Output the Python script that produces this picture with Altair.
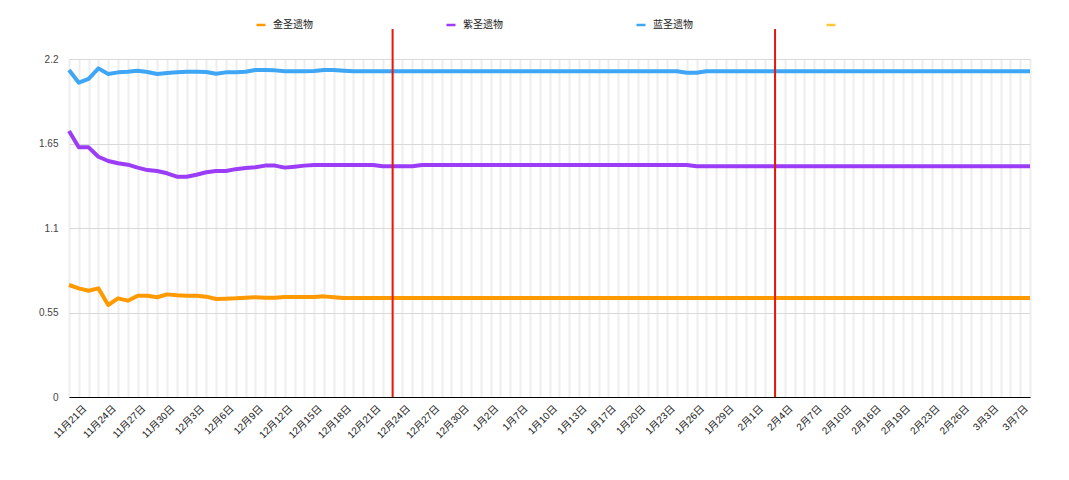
import json

import altair as alt
import pandas as pd

# Category axis: one entry per record date (not every calendar day is present)
dates = [
    "11月21日", "11月22日", "11月23日", "11月24日", "11月25日", "11月26日", "11月27日", "11月28日", "11月29日", "11月30日",
    "12月1日", "12月2日", "12月3日", "12月4日", "12月5日", "12月6日", "12月7日", "12月8日", "12月9日", "12月10日",
    "12月11日", "12月12日", "12月13日", "12月14日", "12月15日", "12月16日", "12月17日", "12月18日", "12月19日", "12月20日",
    "12月21日", "12月22日", "12月23日", "12月24日", "12月25日", "12月26日", "12月27日", "12月28日", "12月29日", "12月30日",
    "12月31日", "1月1日", "1月2日", "1月3日", "1月5日", "1月7日", "1月8日", "1月9日", "1月10日", "1月11日",
    "1月12日", "1月13日", "1月14日", "1月15日", "1月17日", "1月18日", "1月19日", "1月20日", "1月21日", "1月22日",
    "1月23日", "1月24日", "1月25日", "1月26日", "1月27日", "1月28日", "1月29日", "1月30日", "1月31日", "2月1日",
    "2月2日", "2月3日", "2月4日", "2月5日", "2月6日", "2月7日", "2月8日", "2月9日", "2月10日", "2月12日",
    "2月14日", "2月16日", "2月17日", "2月18日", "2月19日", "2月20日", "2月22日", "2月23日", "2月24日", "2月25日",
    "2月26日", "2月28日", "3月1日", "3月3日", "3月4日", "3月6日", "3月7日", "3月8日", "3月9日",
]

gold = [
    0.729, 0.707, 0.692, 0.707, 0.599, 0.642, 0.627, 0.659, 0.659, 0.649,
    0.668, 0.662, 0.659, 0.659, 0.653, 0.638, 0.640, 0.642, 0.646, 0.649,
    0.646, 0.646, 0.651, 0.651, 0.651, 0.651, 0.655, 0.649, 0.644, 0.644,
    0.644, 0.644, 0.644, 0.644, 0.644, 0.644, 0.644, 0.644, 0.644, 0.644,
    0.644, 0.644, 0.644, 0.644, 0.644, 0.644, 0.644, 0.644, 0.644, 0.644,
    0.644, 0.644, 0.644, 0.644, 0.644, 0.644, 0.644, 0.644, 0.644, 0.644,
    0.644, 0.644, 0.644, 0.644, 0.644, 0.644, 0.644, 0.644, 0.644, 0.644,
    0.644, 0.644, 0.644, 0.644, 0.644, 0.644, 0.644, 0.644, 0.644, 0.644,
    0.644, 0.644, 0.644, 0.644, 0.644, 0.644, 0.644, 0.644, 0.644, 0.644,
    0.644, 0.644, 0.644, 0.644, 0.644, 0.644, 0.644, 0.644, 0.644,
]

purple = [
    1.731, 1.625, 1.625, 1.564, 1.536, 1.521, 1.512, 1.493, 1.477, 1.471,
    1.456, 1.434, 1.434, 1.447, 1.463, 1.471, 1.471, 1.483, 1.491, 1.495,
    1.506, 1.506, 1.493, 1.499, 1.506, 1.510, 1.510, 1.510, 1.510, 1.510,
    1.510, 1.510, 1.502, 1.502, 1.502, 1.502, 1.510, 1.510, 1.510, 1.510,
    1.510, 1.510, 1.510, 1.510, 1.510, 1.510, 1.510, 1.510, 1.510, 1.510,
    1.510, 1.510, 1.510, 1.510, 1.510, 1.510, 1.510, 1.510, 1.510, 1.510,
    1.510, 1.510, 1.510, 1.510, 1.502, 1.502, 1.502, 1.502, 1.502, 1.502,
    1.502, 1.502, 1.502, 1.502, 1.502, 1.502, 1.502, 1.502, 1.502, 1.502,
    1.502, 1.502, 1.502, 1.502, 1.502, 1.502, 1.502, 1.502, 1.502, 1.502,
    1.502, 1.502, 1.502, 1.502, 1.502, 1.502, 1.502, 1.502, 1.502,
]

blue = [
    2.128, 2.046, 2.070, 2.139, 2.102, 2.113, 2.117, 2.124, 2.115, 2.102,
    2.109, 2.113, 2.117, 2.117, 2.115, 2.104, 2.113, 2.113, 2.117, 2.128,
    2.128, 2.126, 2.120, 2.120, 2.120, 2.122, 2.128, 2.128, 2.124, 2.120,
    2.120, 2.120, 2.120, 2.120, 2.120, 2.120, 2.120, 2.120, 2.120, 2.120,
    2.120, 2.120, 2.120, 2.120, 2.120, 2.120, 2.120, 2.120, 2.120, 2.120,
    2.120, 2.120, 2.120, 2.120, 2.120, 2.120, 2.120, 2.120, 2.120, 2.120,
    2.120, 2.120, 2.120, 2.110, 2.110, 2.120, 2.120, 2.120, 2.120, 2.120,
    2.120, 2.120, 2.120, 2.120, 2.120, 2.120, 2.120, 2.120, 2.120, 2.120,
    2.120, 2.120, 2.120, 2.120, 2.120, 2.120, 2.120, 2.120, 2.120, 2.120,
    2.120, 2.120, 2.120, 2.120, 2.120, 2.120, 2.120, 2.120, 2.120,
]

series_names = ["金圣遗物", "紫圣遗物", "蓝圣遗物", ""]
series_colors = ["#ff9900", "#9b3cf6", "#3fa6f6", "#ffc83a"]
marker_dates = ["12月24日", "2月4日"]
y_ticks = [0, 0.55, 1.1, 1.65, 2.2]
shown_dates = dates[::3]

rows = []
for name, vals in zip(series_names[:3], [gold, purple, blue]):
    for d, v in zip(dates, vals):
        rows.append({"日期": d, "系列": name, "值": v})
df = pd.DataFrame(rows)
markers = pd.DataFrame({"日期": marker_dates})

FONT = "Liberation Sans, Arial, Noto Sans CJK SC, sans-serif"
W, H = 961, 338

label_expr = (
    "indexof(" + json.dumps(shown_dates, ensure_ascii=False) + ", datum.value) >= 0 ? datum.value : ''"
)

x_scale = alt.Scale(type="point", padding=0, domain=dates)

x_enc = alt.X(
    "日期:N",
    sort=dates,
    scale=x_scale,
    axis=alt.Axis(
        title=None,
        labelAngle=-45,
        labelExpr=label_expr,
        labelFontSize=10,
        labelColor="#222222",
        labelPadding=6,
        labelOffset=12,
        labelFont=FONT,
        ticks=False,
        tickSize=0,
        grid=True,
        gridColor="#eeeeee",
        gridWidth=2,
        domainColor="#000000",
        domainWidth=1,
        labelOverlap=False,
    ),
)

y_enc = alt.Y(
    "值:Q",
    scale=alt.Scale(domain=[0, 2.2], nice=False, zero=True),
    axis=alt.Axis(
        title=None,
        values=y_ticks,
        labelExpr="'' + datum.value",
        ticks=False,
        tickSize=0,
        domain=False,
        grid=True,
        gridColor="#d9d9d9",
        gridWidth=1,
        labelFontSize=10,
        labelColor="#444444",
        labelPadding=11,
        labelFont=FONT,
    ),
)

lines = (
    alt.Chart(df)
    .mark_line(strokeWidth=4, strokeJoin="round", strokeCap="butt")
    .encode(
        x=x_enc,
        y=y_enc,
        color=alt.Color(
            "系列:N",
            scale=alt.Scale(domain=series_names, range=series_colors),
            legend=alt.Legend(
                title=None,
                orient="none",
                legendX=186,
                legendY=-40,
                direction="horizontal",
                columns=4,
                gridAlign="all",
                columnPadding=128,
                symbolType="stroke",
                symbolSize=81,
                symbolStrokeWidth=2.5,
                labelFontSize=10,
                labelColor="#222222",
                labelFont=FONT,
                labelOffset=6,
                padding=0,
            ),
        ),
        detail="系列:N",
    )
)

rules = (
    alt.Chart(markers)
    .mark_rule(color="#e8170c", strokeWidth=2)
    .encode(
        x=alt.X("日期:N", sort=dates, scale=x_scale),
        y=alt.value(-30),
        y2=alt.value(H),
    )
)

chart = (
    alt.layer(lines, rules)
    .properties(
        width=W,
        height=H,
        autosize=alt.AutoSizeParams(type="none"),
        padding={"left": 69, "top": 59, "right": 39, "bottom": 83},
        background="#ffffff",
    )
    .configure_view(stroke=None)
    .configure(font=FONT)
)

chart.save("out.html", embed_options={"renderer": "svg", "actions": False})
